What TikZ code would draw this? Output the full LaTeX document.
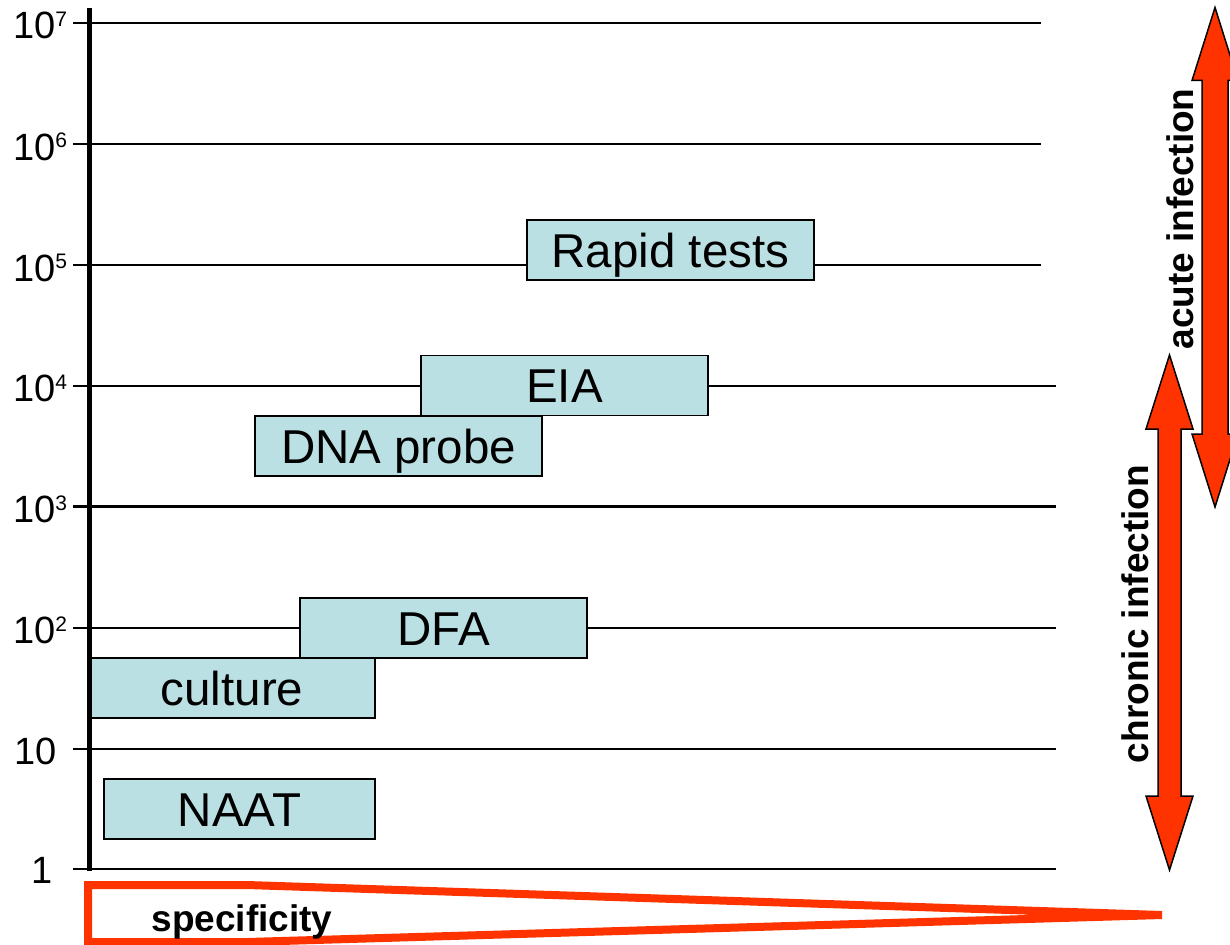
\documentclass[tikz,border=0pt]{standalone}
\usepackage{fontspec}
\setmainfont{Liberation Sans}
\definecolor{boxfill}{HTML}{BBE0E3}
\definecolor{ored}{HTML}{FF3300}
\newcommand\mysup[1]{\raisebox{12.2pt}{\fontsize{21}{21}\selectfont #1}}
\newcommand\mydblarrow[6]{% center x, tip1, tip2, head length, head half width, shaft half width
  \draw[arrowshape] (#1,#2) -- ({#1+#5},{#2+#4}) -- ({#1+#6},{#2+#4}) -- ({#1+#6},{#3-#4})
    -- ({#1+#5},{#3-#4}) -- (#1,#3) -- ({#1-#5},{#3-#4}) -- ({#1-#6},{#3-#4})
    -- ({#1-#6},{#2+#4}) -- ({#1-#5},{#2+#4}) -- cycle;}
\begin{document}
\begin{tikzpicture}[x=1pt,y=-1pt,
  grid/.style={line width=2.2pt, black},
  testbox/.style={draw=black, line width=1.5pt, fill=boxfill, inner sep=0pt,
    font=\fontsize{47.5}{47.5}\selectfont, text height=34pt, text depth=0pt,
    minimum height=60pt},
  axlab/.style={inner sep=0pt, anchor=west, font=\fontsize{38}{38}\selectfont,
    text height=27.2pt, text depth=0pt},
  sidelab/.style={inner sep=0pt, anchor=base, font=\bfseries\fontsize{37}{37}\selectfont},
  arrowshape/.style={draw=black, line width=1.5pt, fill=ored, line join=miter}]
\useasboundingbox (0,0) rectangle (1230,944);
% grid lines
\foreach \yy/\ee in {22.7/1041, 144/1041, 265/1041, 385.7/1056, 506.5/1056,
                     627.7/1056, 748.7/1056, 869.3/1056}
  \draw[grid] (73,\yy) -- (\ee,\yy);
% axis labels
\node[axlab] (l7) at (13,25) {10\mysup{7}};
\node[axlab] (l6) at (13,146.5) {10\mysup{6}};
\node[axlab] (l5) at (13,267.5) {10\mysup{5}};
\node[axlab] (l4) at (13,388) {10\mysup{4}};
\node[axlab] (l3) at (13,509) {10\mysup{3}};
\node[axlab] (l2) at (13,630) {10\mysup{2}};
\node[axlab] (l1) at (14,751) {10};
\node[axlab] (l0) at (31,869.5) {1};
% test boxes
\node[testbox, minimum width=287pt] (rapid) at (670.5,250) {Rapid tests};
\node[testbox, minimum width=287pt] (eia) at (564.5,385.5) {EIA};
\node[testbox, minimum width=287pt] (dna) at (398.5,446) {DNA probe};
\node[testbox, minimum width=287pt] (dfa) at (443.5,628) {DFA};
\node[testbox, minimum width=286pt] (culture) at (232,688) {culture};
\node[testbox, minimum width=271pt] (naat) at (239.5,809) {NAAT};
% vertical axis
\draw[line width=4.5pt, black] (89.5,8) -- (89.5,871);
% specificity wedge
\draw[ored, line width=8pt, line join=miter] (88,885) -- (247,885) -- (1162,915)
  -- (247,942) -- (88,942) -- cycle;
\node[inner sep=0pt, anchor=base, font=\bfseries\fontsize{37}{37}\selectfont] (spec) at (242,931.5) {specificity};
% double arrows
\mydblarrow{1215}{7.5}{507}{73}{23}{13}
\mydblarrow{1169.5}{355}{870}{74}{23.5}{11.5}
\node[sidelab, rotate=90] (acute) at (1193,219) {acute infection};
\node[sidelab, rotate=90] (chronic) at (1148,614) {chronic infection};
\end{tikzpicture}
\end{document}
